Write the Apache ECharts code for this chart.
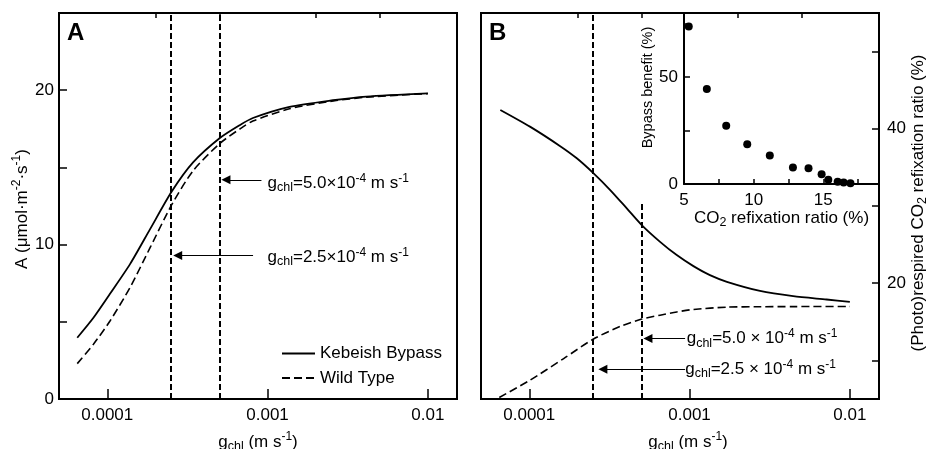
<!DOCTYPE html>
<html><head><meta charset="utf-8">
<script src="https://cdn.jsdelivr.net/npm/echarts@6/dist/echarts.min.js"></script>
<style>html,body{margin:0;padding:0;background:#fff}#c{width:927px;height:449px}</style>
</head><body><div id="c"></div>
<script>
// ---- data ----
const gA = [6.5e-5, 8.2e-5, 1.04e-4, 1.39e-4, 1.85e-4, 2.53e-4, 3.43e-4, 5.04e-4, 6.74e-4, 8.1e-4, 1.37e-3, 2.56e-3, 4.13e-3, 1e-2];
const kebeishA = [3.97, 5.26, 6.81, 8.75, 11.0, 13.45, 15.32, 16.9, 17.75, 18.2, 18.92, 19.35, 19.59, 19.8];
const wildA = [2.29, 3.55, 5.05, 7.24, 9.8, 12.6, 14.78, 16.55, 17.5, 18.0, 18.8, 19.3, 19.55, 19.78];
const gBk = [6.6e-5, 1.01e-4, 1.56e-4, 1.98e-4, 2.52e-4, 3.2e-4, 4.06e-4, 5.03e-4, 6.55e-4, 8.32e-4, 1.057e-3, 1.34e-3, 1.71e-3, 2.75e-3, 4.43e-3, 7.16e-3, 1e-2];
const kebeishB = [42.44, 40.28, 37.75, 36.18, 34.23, 32.07, 29.69, 27.53, 25.36, 23.64, 22.21, 21.04, 20.18, 19.0, 18.32, 17.89, 17.58];
const gBw = [6.5e-5, 1.01e-4, 1.64e-4, 2.5e-4, 3.69e-4, 5.03e-4, 6.55e-4, 8.32e-4, 1.057e-3, 1.71e-3, 2.75e-3, 4.43e-3, 1e-2];
const wildB = [5.2, 7.43, 10.24, 12.74, 14.4, 15.35, 15.86, 16.28, 16.6, 16.9, 16.95, 16.97, 16.98];
const insetRefix = [5.34, 6.64, 8.03, 9.54, 11.16, 12.82, 13.94, 14.88, 15.36, 16.03, 16.46, 16.95];
const insetBenefit = [73.7, 44.4, 27.2, 18.6, 13.3, 7.7, 7.4, 4.6, 2.0, 1.1, 0.7, 0.3];
const gMarkers = [2.5e-4, 5e-4];
const xTickValues = [1e-4, 1e-3, 1e-2];
const xTickLabels = ['0.0001', '0.001', '0.01'];
const xMinorTicks = [2e-4, 5e-4, 2e-3, 5e-3];
const yATicks = [5, 10, 15, 20];
const yALabels = [0, 10, 20];
const yBTicks = [10, 20, 30, 40, 50];
const yBLabels = [20, 40];
const inXTicks = [7.5, 10, 12.5, 15, 17.5];
const inXLabels = [5, 10, 15];
const inYTicks = [25, 50, 75];
const inYLabels = [0, 50];

// ---- styles ----
const F = "'Liberation Sans', Arial, Helvetica, sans-serif";
const K = '#000';
const FS = 17;
const rich = {
  t: {fontSize: FS, fontFamily: F, color: K, lineHeight: 22},
  sub: {fontSize: 12.5, fontFamily: F, color: K, lineHeight: 16, verticalAlign: 'bottom'},
  sup: {fontSize: 12, fontFamily: F, color: K, lineHeight: 12, verticalAlign: 'top'}
};
const gName = '{t|g}{sub|chl}{t| (m s}{sup|-1}{t|)}';
function xLabelFmt(v) {
  const i = xTickValues.findIndex(t => Math.abs(Math.log10(t) - Math.log10(v)) < 1e-6);
  return i >= 0 ? xTickLabels[i] : '';
}
const GMIN = 5e-5, GMAX = 0.0152;
const SM = 0.25;
function majorX(grid, namePad) {
  return {
    type: 'log', gridIndex: grid, min: GMIN, max: GMAX,
    axisLine: {show: true, lineStyle: {color: K, width: 2}},
    axisTick: {show: true, inside: true, length: 10, customValues: xTickValues, lineStyle: {color: K, width: 1.5}},
    axisLabel: {show: true, customValues: xTickValues, formatter: xLabelFmt, fontSize: FS, fontFamily: F, color: K, margin: 8},
    splitLine: {show: false}, minorTick: {show: false},
    name: gName, nameLocation: 'middle', nameGap: 32, nameTextStyle: {rich: rich, padding: namePad}
  };
}
function minorX(grid) {
  return {
    type: 'log', gridIndex: grid, min: GMIN, max: GMAX,
    axisLine: {show: false},
    axisTick: {show: true, inside: true, length: 5, customValues: xMinorTicks, lineStyle: {color: K, width: 1.5}},
    axisLabel: {show: false}, splitLine: {show: false}
  };
}
function pairs(xs, ys) { return xs.map((x, i) => [x, ys[i]]); }
const dashV = {color: K, width: 2, type: [6, 3]};
const arrowLine = {color: K, width: 1.2, type: 'solid'};
function annText(v) {
  return '{t|g}{sub|chl}{t|=' + v + '}{sup|-4}{t| m s}{sup|-1}';
}
function arrow(g0, g1, y) {
  return [{coord: [g0, y], symbol: 'none'}, {coord: [g1, y], symbol: 'triangle', symbolSize: 9}];
}
function annPoint(g, y, text) {
  return {coord: [g, y], value: text, symbol: 'circle', symbolSize: 0,
    label: {show: true, position: 'right', distance: 0, formatter: text, rich: rich}};
}
function vline(g, y0, y1) { return [{coord: [g, y0]}, {coord: [g, y1]}]; }

const option = {
  animation: false,
  backgroundColor: '#fff',
  title: [
    {text: 'A', left: 67, top: 21, padding: 0, textStyle: {fontSize: 24, fontWeight: 'bold', fontFamily: F, color: K}},
    {text: 'B', left: 489, top: 21, padding: 0, textStyle: {fontSize: 24, fontWeight: 'bold', fontFamily: F, color: K}}
  ],
  legend: {
    data: ['Kebeish Bypass', 'Wild Type'], orient: 'vertical', left: 281, top: 345, padding: 0,
    itemWidth: 33, itemHeight: 14, itemGap: 7.6,
    itemStyle: {opacity: 0},
    textStyle: {fontSize: FS, fontFamily: F, color: K}
  },
  grid: [
    {left: 59, right: 470, top: 13, bottom: 50, show: true, borderColor: K, borderWidth: 2, containLabel: false, outerBoundsMode: 'none'},
    {left: 481, right: 48, top: 13, bottom: 50, show: true, borderColor: K, borderWidth: 2, containLabel: false, outerBoundsMode: 'none'},
    {left: 684, right: 48, top: 13, bottom: 265, show: false, containLabel: false, outerBoundsMode: 'none'}
  ],
  xAxis: [
    majorX(0, [0, 0, 0, 0]), minorX(0), majorX(1, [0, 0, 0, 16]), minorX(1),
    {
      type: 'value', gridIndex: 2, min: 5, max: 19,
      axisLine: {show: true, lineStyle: {color: K, width: 2}},
      axisTick: {show: true, inside: true, length: 5, customValues: inXTicks, lineStyle: {color: K, width: 1.5}},
      axisLabel: {show: true, customValues: inXLabels, fontSize: FS, fontFamily: F, color: K, margin: 8},
      splitLine: {show: false},
      name: '{t|CO}{sub|2}{t| refixation ratio (%)}', nameLocation: 'middle', nameGap: 23, nameTextStyle: {rich: rich}
    }
  ],
  yAxis: [
    {
      type: 'value', gridIndex: 0, min: 0, max: 25,
      axisLine: {show: true, lineStyle: {color: K, width: 2}},
      axisTick: {show: true, inside: true, length: 8, customValues: yATicks, lineStyle: {color: K, width: 1.5}},
      axisLabel: {show: true, customValues: yALabels, fontSize: FS, fontFamily: F, color: K, margin: 5},
      splitLine: {show: false},
      name: '{t|A (μmol·m}{sup|-2}{t|·s}{sup|-1}{t|)}', nameLocation: 'middle', nameGap: 26, nameRotate: 90,
      nameTextStyle: {rich: rich, padding: [0, 6, 0, 0]}
    },
    {
      type: 'value', gridIndex: 1, position: 'right', min: 5, max: 55,
      axisLine: {show: true, lineStyle: {color: K, width: 2}},
      axisTick: {show: true, inside: true, length: 7, customValues: yBTicks, lineStyle: {color: K, width: 1.5}},
      axisLabel: {show: true, customValues: yBLabels, fontSize: FS, fontFamily: F, color: K, margin: 8},
      splitLine: {show: false},
      name: '{t|(Photo)respired CO}{sub|2}{t| refixation ratio (%)}', nameLocation: 'middle', nameGap: 26, nameRotate: 90,
      nameTextStyle: {rich: rich, padding: [0, 0, 0, 6]}
    },
    {
      type: 'value', gridIndex: 2, min: 0, max: 80,
      axisLine: {show: true, lineStyle: {color: K, width: 2}},
      axisTick: {show: true, inside: true, length: 6, customValues: inYTicks, lineStyle: {color: K, width: 1.5}},
      axisLabel: {show: true, customValues: inYLabels, fontSize: FS, fontFamily: F, color: K, margin: 6},
      splitLine: {show: false},
      name: 'Bypass benefit (%)', nameLocation: 'middle', nameGap: 29, nameRotate: 90,
      nameTextStyle: {fontSize: 14.5, fontFamily: F, color: K, padding: [0, 0, 0, 22]}
    }
  ],
  series: [
    {
      name: 'Kebeish Bypass', type: 'line', xAxisIndex: 0, yAxisIndex: 0,
      data: pairs(gA, kebeishA), symbol: 'none', smooth: SM,
      lineStyle: {color: K, width: 1.8}, itemStyle: {color: K},
      markLine: {silent: true, symbol: 'none', label: {show: false}, lineStyle: dashV,
        data: gMarkers.map(g => vline(g, 0, 25))}
    },
    {
      name: 'Wild Type', type: 'line', xAxisIndex: 0, yAxisIndex: 0,
      data: pairs(gA, wildA), symbol: 'none', smooth: SM,
      lineStyle: {color: K, width: 1.6, type: [8, 4]}, itemStyle: {color: K},
      markLine: {silent: true, label: {show: false}, lineStyle: arrowLine, symbol: ['none', 'triangle'], symbolSize: 9,
        data: [arrow(9.16e-4, 5.5e-4, 14.2), arrow(8.12e-4, 2.75e-4, 9.29)]},
      markPoint: {silent: true, data: [annPoint(1.0e-3, 13.96, annText('5.0×10')), annPoint(1.0e-3, 9.18, annText('2.5×10'))]}
    },
    {
      name: 'B Kebeish', type: 'line', xAxisIndex: 2, yAxisIndex: 1,
      data: pairs(gBk, kebeishB), symbol: 'none', smooth: SM,
      lineStyle: {color: K, width: 1.8},
      markLine: {silent: true, symbol: 'none', label: {show: false}, lineStyle: dashV,
        data: [vline(gMarkers[0], 5, 55), vline(gMarkers[1], 5, 30.3)]}
    },
    {
      name: 'B Wild', type: 'line', xAxisIndex: 2, yAxisIndex: 1,
      data: pairs(gBw, wildB), symbol: 'none', smooth: SM,
      lineStyle: {color: K, width: 1.6, type: [8, 4]},
      markLine: {silent: true, label: {show: false}, lineStyle: arrowLine, symbol: ['none', 'triangle'], symbolSize: 9,
        data: [arrow(9.38e-4, 5.5e-4, 12.83), arrow(9.38e-4, 2.88e-4, 8.85)]},
      markPoint: {silent: true, data: [annPoint(9.6e-4, 12.83, annText('5.0 × 10')), annPoint(9.4e-4, 8.85, annText('2.5 × 10'))]}
    },
    {
      name: 'Inset', type: 'scatter', xAxisIndex: 4, yAxisIndex: 2,
      data: pairs(insetRefix, insetBenefit), symbol: 'circle', symbolSize: 8,
      itemStyle: {color: K, opacity: 1}
    }
  ]
};
const chart = echarts.init(document.getElementById('c'));
chart.setOption(option);
</script>
</body></html>
